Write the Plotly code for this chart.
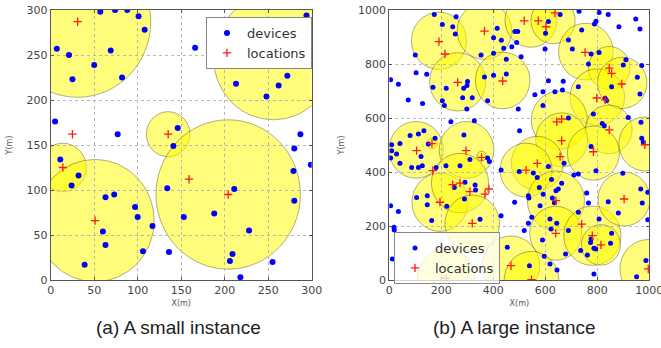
import plotly.graph_objects as go

# ---------------- data: (a) small instance ----------------
small_dev_x = [7, 21, 50, 25, 69, 82, 57, 74, 88, 101, 108, 166, 294, 290, 213, 262, 272, 248, 5, 77,
               146, 141, 287, 280, 11, 32, 24, 63, 73, 97, 100, 117, 60, 63, 106, 39, 134, 136, 153, 188,
               211, 228, 209, 206, 218, 255, 279, 280, 299]
small_dev_y = [257, 250, 239, 223, 255, 225, 298, 300, 300, 293, 278, 258, 294, 246, 218, 216, 227, 204, 176, 162,
               169, 149, 162, 146, 134, 116, 105, 92, 95, 81, 70, 60, 54, 39, 32, 17, 102, 31, 70, 74,
               101, 55, 29, 21, 3, 20, 121, 88, 128]
small_loc_x = [31, 25, 135, 256, 14, 51, 159, 204]
small_loc_y = [287, 162, 162, 247, 125, 66, 112, 95]
small_circ_x = [31, 256, 135, 14, 51, 204]
small_circ_y = [287, 247, 162, 125, 66, 95]
small_circ_r = [84, 69, 25, 27, 68, 83]

# ---------------- data: (b) large instance ----------------
large_dev = [
    (173, 983), (257, 975), (204, 946), (244, 938), (254, 911), (100, 833), (415, 932), (401, 897), (431, 888),
    (440, 858), (483, 920), (494, 920), (490, 880), (471, 864), (401, 840), (353, 833), (450, 818), (507, 827),
    (5, 742), (35, 725), (103, 768), (144, 762), (366, 752), (401, 758), (450, 763), (301, 735), (299, 720),
    (286, 710), (219, 710), (168, 714), (282, 675), (319, 675), (204, 664), (212, 646), (298, 633), (73, 667),
    (128, 654), (378, 664), (237, 586), (327, 590), (496, 633), (501, 553), (287, 537), (80, 535), (112, 541),
    (133, 553), (176, 525),
    (657, 983), (730, 995), (807, 991), (842, 983), (795, 958), (789, 948), (883, 938), (948, 967), (964, 930),
    (612, 957), (601, 914), (740, 926), (689, 889), (704, 856), (599, 856), (776, 837), (807, 843), (766, 800),
    (910, 816), (900, 796), (971, 794), (954, 751), (855, 716), (727, 716), (612, 738), (669, 736), (637, 697),
    (591, 697), (560, 686), (666, 704), (830, 673), (836, 665), (964, 689), (591, 646), (785, 615), (919, 602),
    (819, 580), (827, 571), (689, 600), (968, 584), (971, 525), (977, 510),
    (9, 501), (41, 506), (9, 479), (28, 467), (122, 457), (150, 504), (41, 432), (86, 417), (112, 417),
    (127, 423), (5, 452), (218, 423), (180, 417), (272, 423), (310, 446), (378, 452), (385, 439), (430, 407),
    (291, 362), (330, 352), (332, 333), (250, 343), (146, 312), (105, 306), (146, 279), (221, 273), (289, 300),
    (163, 220), (5, 275), (35, 254), (18, 195), (19, 185), (12, 78), (430, 238), (349, 225), (454, 121),
    (776, 494), (795, 405), (898, 395), (967, 337), (994, 325), (973, 285), (842, 290), (881, 248), (994, 223),
    (759, 322), (766, 285), (727, 251), (807, 226), (672, 432), (612, 420), (500, 402), (554, 396), (569, 380),
    (710, 389), (727, 393), (624, 372), (663, 358), (650, 337), (641, 331), (577, 343), (592, 318), (535, 312),
    (537, 304), (627, 304), (635, 286), (580, 275), (482, 288), (548, 232), (535, 210), (618, 226), (644, 210),
    (622, 189), (519, 183), (689, 183), (589, 148), (678, 96), (596, 88), (539, 53), (618, 59), (645, 37),
    (776, 152), (774, 139), (787, 118), (794, 115), (855, 173), (851, 136), (736, 109), (762, 93), (787, 22),
    (951, 12), (987, 72),
]
large_dev_x = [p[0] for p in large_dev]
large_dev_y = [p[1] for p in large_dev]

large_loc = [
    (191, 883), (214, 837), (263, 732), (366, 922), (436, 737), (164, 505),
    (519, 960), (573, 960), (603, 938), (637, 989), (753, 843), (846, 785), (855, 765), (894, 726), (798, 674),
    (830, 667), (644, 586), (663, 596), (846, 556), (663, 516), (785, 475),
    (105, 479), (295, 479), (355, 454), (167, 405), (244, 353), (272, 359), (310, 327), (368, 318), (383, 337),
    (195, 288), (319, 210), (468, 53), (218, 6),
    (983, 501), (657, 457), (569, 432), (526, 407), (641, 294), (903, 300), (740, 207), (640, 173), (781, 164),
    (814, 130), (547, 1), (996, 41),
]
large_loc_x = [p[0] for p in large_loc]
large_loc_y = [p[1] for p in large_loc]

large_circ = [
    (191, 886, 106), (366, 922, 105), (263, 734, 108), (436, 739, 105), (545, 962, 100), (630, 960, 85),
    (756, 846, 105), (846, 785, 80), (800, 677, 105), (896, 730, 95), (654, 592, 108), (844, 558, 90),
    (983, 504, 100), (663, 519, 100), (569, 432, 100), (166, 506, 20), (103, 482, 105), (297, 482, 105),
    (355, 459, 18), (195, 288, 108), (272, 359, 110), (319, 210, 105), (218, 6, 110), (526, 407, 100),
    (468, 53, 110), (641, 294, 110), (640, 173, 100), (781, 164, 110), (814, 130, 75), (903, 300, 100),
    (785, 470, 100), (547, 1, 105), (996, 41, 109),
]
large_circ_x = [c[0] for c in large_circ]
large_circ_y = [c[1] for c in large_circ]
large_circ_r = [c[2] for c in large_circ]

small_ticks = [0, 50, 100, 150, 200, 250, 300]
large_ticks = [0, 200, 400, 600, 800, 1000]

# ---------------- figure ----------------
W, H = 661, 348
BLUE = "#0000ff"
RED = "#ff1a1a"
FILL = "rgba(255,252,0,0.52)"
EDGE = "rgba(80,80,30,0.45)"

fig = go.Figure()

fig.add_trace(go.Scatter(x=small_dev_x, y=small_dev_y, mode="markers", name="devices",
                         marker=dict(color=BLUE, size=6), xaxis="x", yaxis="y", legend="legend"))
fig.add_trace(go.Scatter(x=small_loc_x, y=small_loc_y, mode="markers", name="locations",
                         marker=dict(symbol="cross-thin", size=6, line=dict(color=RED, width=1.3)),
                         xaxis="x", yaxis="y", legend="legend"))
fig.add_trace(go.Scatter(x=large_dev_x, y=large_dev_y, mode="markers", name="devices",
                         marker=dict(color=BLUE, size=5), xaxis="x2", yaxis="y2", legend="legend2"))
fig.add_trace(go.Scatter(x=large_loc_x, y=large_loc_y, mode="markers", name="locations",
                         marker=dict(symbol="cross-thin", size=6, line=dict(color=RED, width=1.3)),
                         xaxis="x2", yaxis="y2", legend="legend2"))

shapes = []
for cx, cy, r in zip(small_circ_x, small_circ_y, small_circ_r):
    shapes.append(dict(type="circle", xref="x", yref="y", x0=cx - r, x1=cx + r, y0=cy - r, y1=cy + r,
                       fillcolor=FILL, line=dict(color=EDGE, width=1), layer="below"))
for cx, cy, r in zip(large_circ_x, large_circ_y, large_circ_r):
    shapes.append(dict(type="circle", xref="x2", yref="y2", x0=cx - r, x1=cx + r, y0=cy - r, y1=cy + r,
                       fillcolor=FILL, line=dict(color=EDGE, width=1), layer="below"))

tickfont = dict(family="DejaVu Sans", size=11, color="#444")
titlefont = dict(family="DejaVu Sans", size=8, color="#555")
ydom = [(H - 280) / H, (H - 10) / H]

def ax(dom, rng, ticks, title, anchor, standoff):
    return dict(domain=dom, range=rng, tickmode="array", tickvals=ticks, showgrid=True, gridcolor="#b8b8b8",
                griddash="dot", gridwidth=1, zeroline=False, showline=True, linecolor="#555",
                linewidth=1, mirror="ticks", ticks="inside", ticklen=3, tickcolor="#555",
                tickfont=tickfont, ticklabeloverflow="allow",
                title=dict(text=title, font=titlefont, standoff=standoff),
                anchor=anchor, automargin=False, fixedrange=True)

fig.update_layout(
    width=W, height=H, margin=dict(l=0, r=0, t=0, b=0),
    paper_bgcolor="white", plot_bgcolor="white",
    xaxis=ax([50.7 / W, 311.7 / W], [0, 300], small_ticks, "X(m)", "y", 4),
    yaxis=ax(ydom, [0, 300], small_ticks, "Y(m)", "x", 12),
    xaxis2=ax([389.3 / W, 649.3 / W], [0, 1000], large_ticks, "X(m)", "y2", 4),
    yaxis2=ax(ydom, [0, 1000], large_ticks, "Y(m)", "x2", 12),
    shapes=shapes,
    legend=dict(x=312 / W, y=1 - 17 / H, xanchor="right", yanchor="top",
                bgcolor="white", bordercolor="#888", borderwidth=1,
                font=dict(family="DejaVu Sans", size=13, color="#333"),
                tracegroupgap=0, itemwidth=30),
    legend2=dict(x=394 / W, y=1 - 232 / H, xanchor="left", yanchor="top",
                 bgcolor="rgba(255,255,255,0.75)", bordercolor="#888", borderwidth=1,
                 font=dict(family="DejaVu Sans", size=13, color="#333"),
                 tracegroupgap=0, itemwidth=30),
    annotations=[
        dict(text="(a) A small instance", x=178 / W, y=1 - 327 / H, xref="paper", yref="paper",
             showarrow=False, xanchor="center", yanchor="middle",
             font=dict(family="Liberation Sans", size=19, color="#222")),
        dict(text="(b) A large instance", x=514 / W, y=1 - 327 / H, xref="paper", yref="paper",
             showarrow=False, xanchor="center", yanchor="middle",
             font=dict(family="Liberation Sans", size=19, color="#222")),
    ],
    showlegend=True,
)

fig.write_html("out.html")
